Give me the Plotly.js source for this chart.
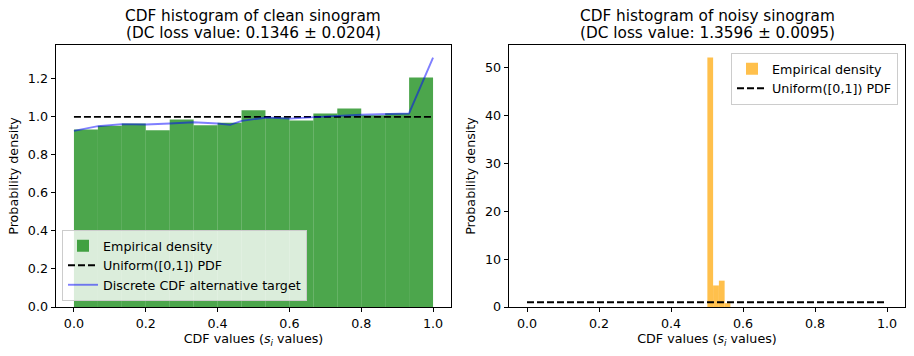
<!DOCTYPE html>
<html>
<head>
<meta charset="utf-8">
<script src="https://cdn.plot.ly/plotly-3.0.1.min.js"></script>
<style>
  body { margin: 0; background: #fff; }
  #chart { width: 914px; height: 356px; }
</style>
</head>
<body>
<div id="chart"></div>
<script>
// clean sinogram histogram (15 bins on [0,1])
var cleanEdges = [0, 0.0667, 0.1333, 0.2, 0.2667, 0.3333, 0.4, 0.4667, 0.5333, 0.6, 0.6667, 0.7333, 0.8, 0.8667, 0.9333, 1.0];
var cleanDensity = [0.934, 0.953, 0.965, 0.930, 0.986, 0.956, 0.969, 1.035, 0.997, 0.981, 1.018, 1.044, 1.009, 1.019, 1.207];

// discrete CDF alternative target
var altX = [0, 0.067, 0.133, 0.2, 0.267, 0.333, 0.4, 0.435, 0.467, 0.537, 0.6, 0.667, 0.733, 0.8, 0.867, 0.933, 1.0];
var altY = [0.926, 0.951, 0.962, 0.960, 0.965, 0.972, 0.965, 0.958, 0.979, 0.997, 0.991, 1.0, 1.005, 1.011, 1.014, 1.018, 1.312];

// noisy sinogram histogram
var noisyEdges = [0.501, 0.517, 0.533, 0.549, 0.565];
var noisyDensity = [52.1, 4.5, 5.5, 0.8];

// uniform pdf
var uniX = [0, 1];
var uniY = [1, 1];

var titles = [
  ["CDF histogram of clean sinogram", "(DC loss value: 0.1346 ± 0.0204)"],
  ["CDF histogram of noisy sinogram", "(DC loss value: 1.3596 ± 0.0095)"]
];

function lefts(edges) { return edges.slice(0, -1); }
function widths(edges) {
  var w = [];
  for (var i = 0; i < edges.length - 1; i++) w.push(edges[i + 1] - edges[i]);
  return w;
}

var W = 914, H = 356;
var FS = 12.7;
var dashK = "7px,3px";

var data = [
  {
    type: "bar", x: lefts(cleanEdges), y: cleanDensity, width: widths(cleanEdges), offset: 0,
    marker: {color: "rgba(0,128,0,0.7)", line: {width: 0}},
    name: "Empirical density", xaxis: "x", yaxis: "y", legend: "legend"
  },
  {
    type: "scatter", mode: "lines", x: uniX, y: uniY,
    line: {color: "black", width: 1.9, dash: dashK},
    name: "Uniform([0,1]) PDF", xaxis: "x", yaxis: "y", legend: "legend"
  },
  {
    type: "scatter", mode: "lines", x: altX, y: altY,
    line: {color: "rgba(0,0,255,0.5)", width: 1.9},
    name: "Discrete CDF alternative target", xaxis: "x", yaxis: "y", legend: "legend"
  },
  {
    type: "bar", x: lefts(noisyEdges), y: noisyDensity, width: widths(noisyEdges), offset: 0,
    marker: {color: "rgba(255,165,0,0.7)", line: {width: 0}},
    name: "Empirical density", xaxis: "x2", yaxis: "y2", legend: "legend2"
  },
  {
    type: "scatter", mode: "lines", x: uniX, y: uniY,
    line: {color: "black", width: 1.9, dash: dashK},
    name: "Uniform([0,1]) PDF", xaxis: "x2", yaxis: "y2", legend: "legend2"
  }
];

var yDom = [(H - 307) / H, (H - 45) / H];
var xDom1 = [56 / W, 451 / W];
var xDom2 = [509 / W, 905 / W];

function xAx(dom, anchor) {
  return {
    domain: dom, anchor: anchor, range: [-0.05, 1.05],
    tickvals: [0, 0.2, 0.4, 0.6, 0.8, 1.0], tickformat: ".1f",
    ticks: "outside", ticklen: 4.4, tickwidth: 1, tickcolor: "#000",
    showline: true, mirror: true, linecolor: "#000", linewidth: 1,
    showgrid: false, zeroline: false,
    title: {text: "CDF values (<i>s<sub>i</sub></i> values)", font: {size: FS}, standoff: 4}
  };
}
function yAx(anchor, range, dtick, fmt) {
  return {
    domain: yDom, anchor: anchor, range: range, dtick: dtick, tickformat: fmt,
    ticks: "outside", ticklen: 4.4, tickwidth: 1, tickcolor: "#000",
    showline: true, mirror: true, linecolor: "#000", linewidth: 1,
    showgrid: false, zeroline: false,
    title: {text: "Probability density", font: {size: FS}, standoff: 6}
  };
}

var legendStyle = {
  bgcolor: "rgba(255,255,255,0.8)", bordercolor: "#cccccc", borderwidth: 1,
  font: {size: FS, color: "#000"}, tracegroupgap: 0
};

var annotations = [];
[[xDom1, 0], [xDom2, 1]].forEach(function (p) {
  var cx = (p[0][0] + p[0][1]) / 2;
  annotations.push({xref: "paper", yref: "paper", x: cx, y: (H - 16) / H, xanchor: "center", yanchor: "middle",
    text: titles[p[1]][0], showarrow: false, font: {size: 15.3, color: "#000"}});
  annotations.push({xref: "paper", yref: "paper", x: cx, y: (H - 33) / H, xanchor: "center", yanchor: "middle",
    text: titles[p[1]][1], showarrow: false, font: {size: 15.3, color: "#000"}});
});

var layout = {
  width: W, height: H,
  margin: {l: 0, r: 0, t: 0, b: 0},
  paper_bgcolor: "#fff", plot_bgcolor: "#fff",
  font: {family: "DejaVu Sans", size: FS, color: "#000"},
  showlegend: true,
  xaxis: xAx(xDom1, "y"),
  yaxis: yAx("x", [0, 1.378], 0.2, ".1f"),
  xaxis2: xAx(xDom2, "y2"),
  yaxis2: yAx("x2", [0, 54.7], 10, "d"),
  legend: Object.assign({x: 62 / W, y: (H - 301) / H, xanchor: "left", yanchor: "bottom"}, legendStyle),
  legend2: Object.assign({x: 898 / W, y: (H - 53) / H, xanchor: "right", yanchor: "top"}, legendStyle),
  annotations: annotations
};

Plotly.newPlot("chart", data, layout, {displayModeBar: false, staticPlot: true});
</script>
</body>
</html>
